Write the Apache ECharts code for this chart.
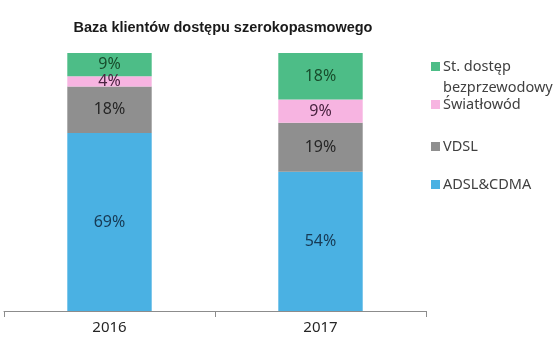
<!DOCTYPE html>
<html>
<head>
<meta charset="utf-8">
<script src="https://cdn.jsdelivr.net/npm/echarts@6/dist/echarts.min.js"></script>
<style>html,body{margin:0;padding:0;background:#fff;}#c{width:560px;height:340px;}</style>
</head>
<body>
<div id="c"></div>
<script>
const categories = ['2016', '2017'];
const seriesNames = ['ADSL&CDMA', 'VDSL', 'Światłowód', 'St. dostęp bezprzewodowy'];
const adsl = [69, 54];
const vdsl = [18, 19];
const swiatlowod = [4, 9];
const wireless = [9, 18];
const values = [adsl, vdsl, swiatlowod, wireless];
const colors = ['#4ab1e3', '#8f8f8f', '#f7b4e1', '#4dbd87'];
const labelColors = ['#173a55', '#262626', '#4a2340', '#184d2c'];
const legendTops = [177, 139, 97, 59];
const legendLabels = ['ADSL&CDMA', 'VDSL', 'Światłowód', 'St. dostęp'];

const chart = echarts.init(document.getElementById('c'), null, {renderer: 'canvas'});
const font = '"Noto Sans", "Open Sans", sans-serif';
const series = seriesNames.map((n, i) => ({
  name: n,
  type: 'bar',
  stack: 'total',
  barWidth: '40%',
  data: values[i],
  itemStyle: {color: colors[i]},
  label: {
    show: true, position: 'inside', formatter: '{c}%',
    color: labelColors[i], fontSize: 16, fontFamily: font
  },
  emphasis: {disabled: true}
}));
const legends = seriesNames.map((n, i) => ({
  data: [n],
  left: 431,
  top: legendTops[i],
  padding: 0,
  orient: 'vertical',
  itemWidth: 9,
  itemHeight: 9,
  itemGap: 0,
  icon: 'rect',
  formatter: () => legendLabels[i],
  textStyle: {color: '#404040', fontSize: 14.5, fontFamily: font, padding: [0, 0, 0, -2]}
}));
chart.setOption({
  animation: false,
  title: {
    text: 'Baza klientów dostępu szerokopasmowego',
    left: 218, top: 15, textAlign: 'center',
    textStyle: {fontSize: 14.5, fontWeight: 'bold', color: '#1a1a1a', fontFamily: '"Liberation Sans", Arial, sans-serif'}
  },
  legend: legends,
  graphic: [{
    type: 'text', left: 443, top: 80,
    style: {text: 'bezprzewodowy', fill: '#404040', fontSize: 14.5, fontFamily: font}
  }],
  grid: {left: 4, right: 134, top: 53, bottom: 29, containLabel: false},
  xAxis: {
    type: 'category', data: categories,
    axisLine: {lineStyle: {color: '#8c8c8c'}},
    axisTick: {show: true, length: 6, lineStyle: {color: '#8c8c8c'}},
    axisLabel: {color: '#262626', fontSize: 15, fontFamily: font, margin: 9}
  },
  yAxis: {
    type: 'value', min: 0, max: 100, show: false,
    splitLine: {show: false}
  },
  series: series
});
</script>
</body>
</html>
